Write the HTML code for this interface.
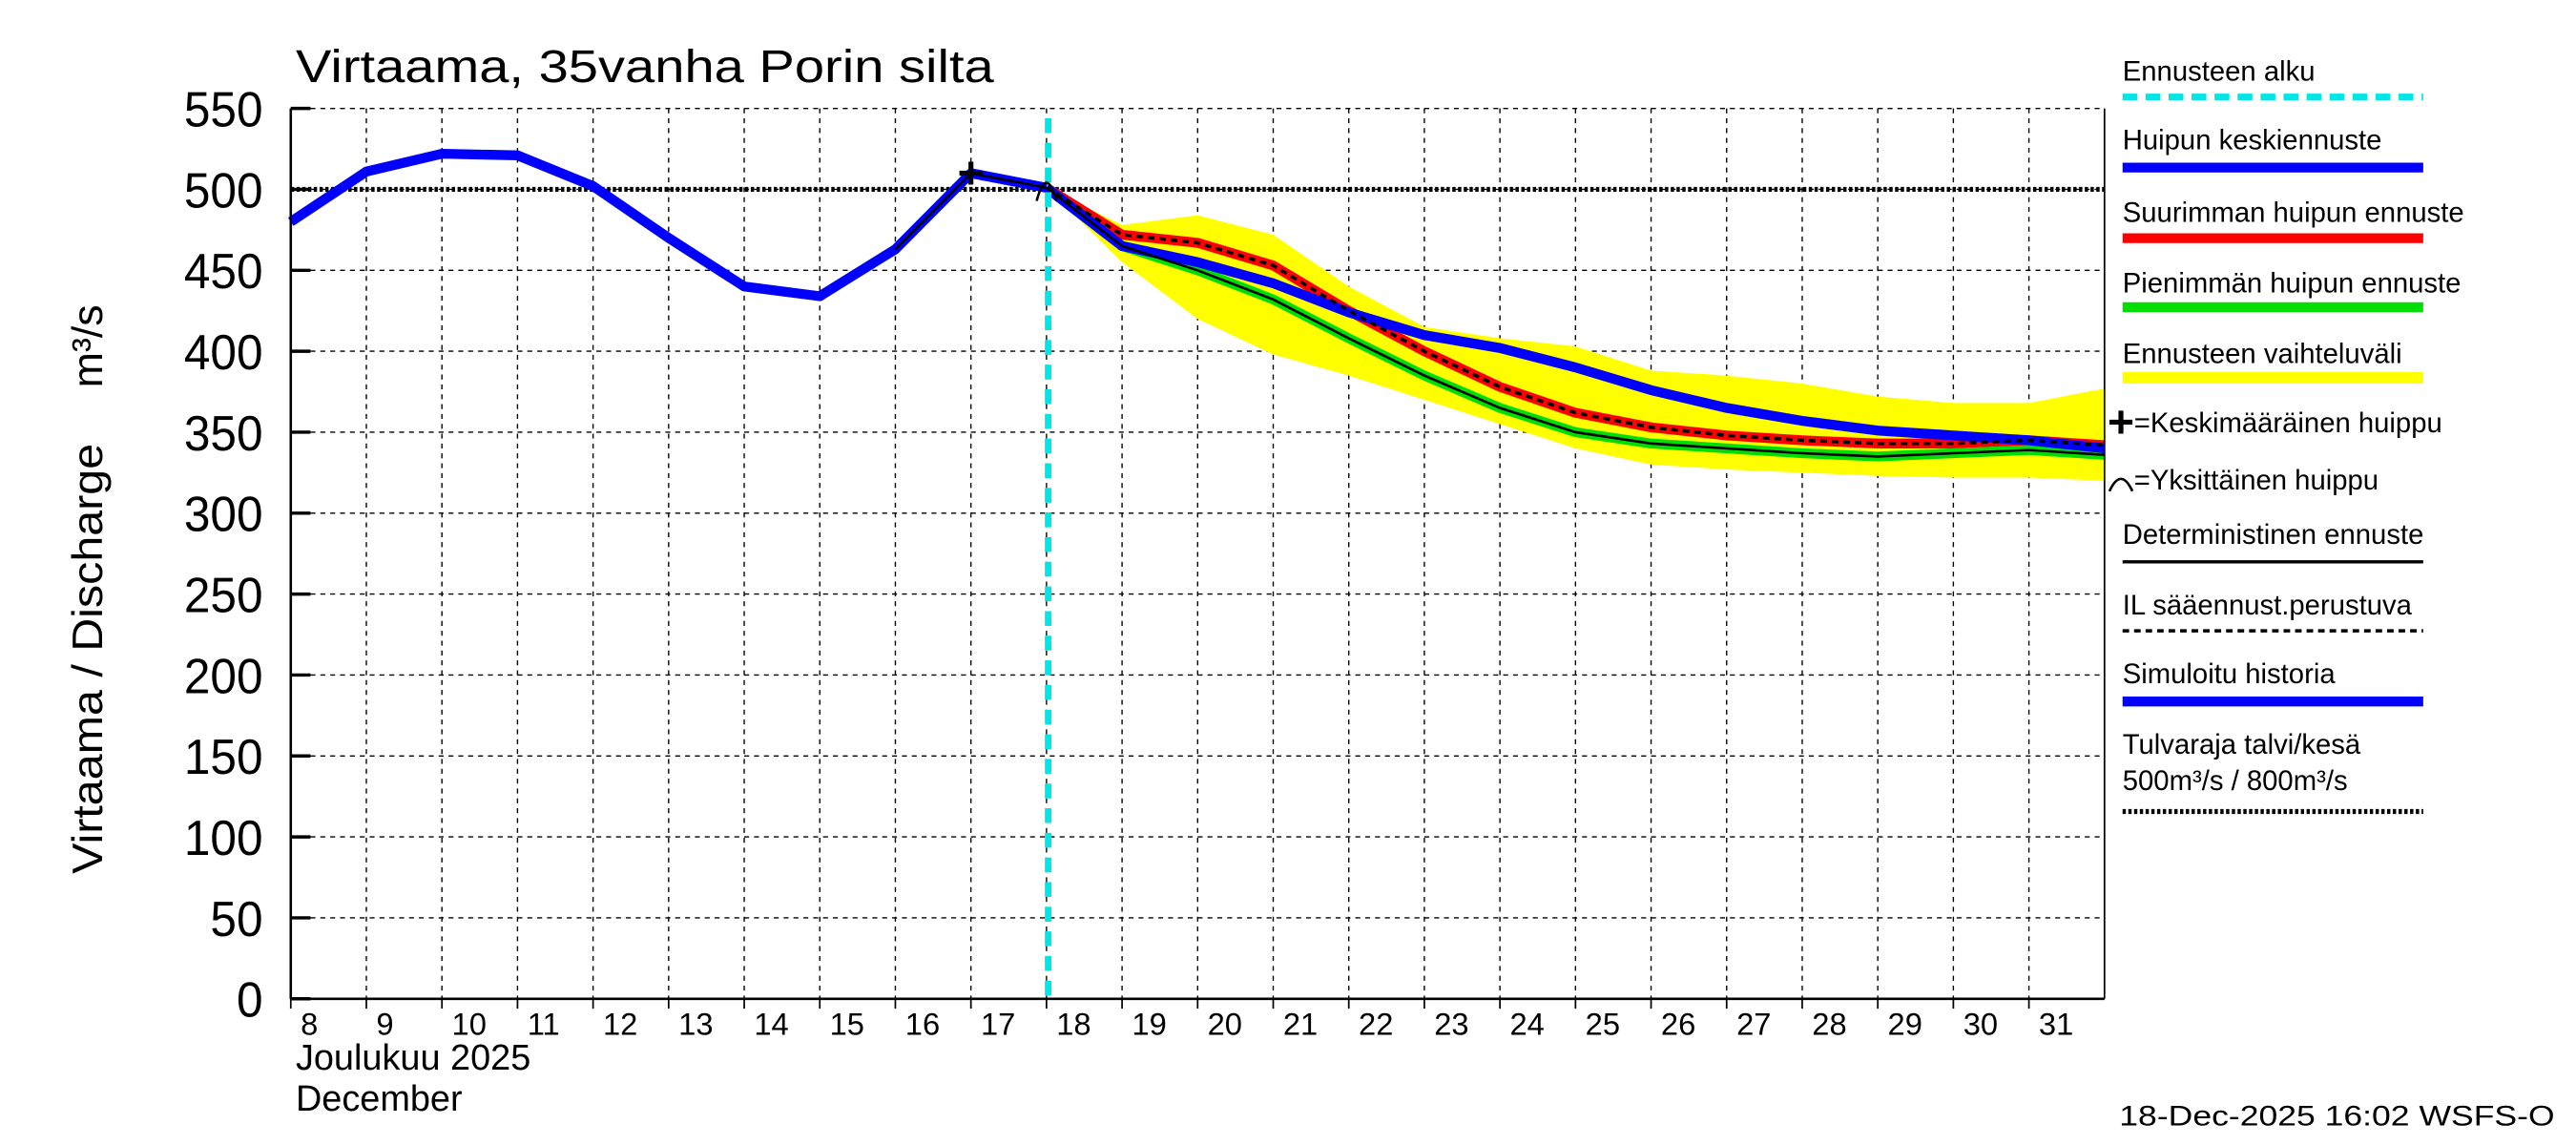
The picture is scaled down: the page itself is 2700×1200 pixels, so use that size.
<!DOCTYPE html>
<html><head><meta charset="utf-8"><style>
html,body{margin:0;padding:0;background:#fff}
svg{display:block}
text{font-family:"Liberation Sans",sans-serif;fill:#000}
</style></head><body>
<svg id="chart" width="2700" height="1200" viewBox="0 0 1568 697" preserveAspectRatio="none" xmlns="http://www.w3.org/2000/svg">
<rect x="0" y="0" width="1568" height="697" fill="#fff"/>
<text x="180" y="50" font-size="28" textLength="425" lengthAdjust="spacingAndGlyphs">Virtaama, 35vanha Porin silta</text>
<g id="plot"></g>
<g id="legend"></g>
<text transform="translate(62,532) rotate(-90)" font-size="26" textLength="262" lengthAdjust="spacingAndGlyphs">Virtaama / Discharge</text>
<text transform="translate(62,236) rotate(-90)" font-size="26">m³/s</text>
<text x="180" y="651" font-size="22">Joulukuu  2025</text>
<text x="180" y="676" font-size="22">December</text>
<text x="1290" y="685" font-size="17" textLength="265" lengthAdjust="spacingAndGlyphs">18-Dec-2025 16:02 WSFS-O</text>
</svg>
<script>
const historyDays=[8,9,10,11,12,13,14,15,16,17,18];
const historyVals=[480,511,522,521,502,470,440,434,463,510,501];
const fcDays=[18,19,20,21,22,23,24,25,26,27,28,29,30,31,32];
const meanVals=[501,465,455,442,424,410,402,390,376,365,357,351,348,345,340];
const maxVals=[501,472,467,453,425,400,378,362,353,348,345,343,343,345,342];
const minVals=[501,465,450,432,408,385,365,350,343,340,337,335,337,339,336];
const upperVals=[501,478,484,472,440,415,408,403,388,385,380,372,368,368,377];
const lowerVals=[501,455,420,398,385,370,355,340,330,327,325,323,322,322,320];
const yTicks=[0,50,100,150,200,250,300,350,400,450,500,550];
const dayTicks=[8,9,10,11,12,13,14,15,16,17,18,19,20,21,22,23,24,25,26,27,28,29,30,31];
const peakDay=17, peakVal=510, forecastStart=18, floodLimit=500;

const NS="http://www.w3.org/2000/svg";
const X0=177,X1=1281,Y0=608,Y1=66;
const x=d=>X0+(d-8)*(X1-X0)/24;
const y=v=>Y0-v*(Y0-Y1)/550;
const plot=document.getElementById('plot');
function mk(tag,attrs,parent){const e=document.createElementNS(NS,tag);for(const k in attrs)e.setAttribute(k,attrs[k]);(parent||plot).appendChild(e);return e;}
function pts(ds,vs){return ds.map((d,i)=>x(d)+','+y(vs[i])).join(' ');}

yTicks.forEach(v=>{
  const g=mk('line',{x1:X0,x2:X1,y1:y(v),y2:y(v),stroke:'#000','stroke-width':0.8,'stroke-dasharray':'3,3'});
  
  
  mk('line',{x1:X0,x2:X0+12,y1:y(v),y2:y(v),stroke:'#000','stroke-width':2});
  const t=mk('text',{x:X0-17,y:y(v)+11,'font-size':30,'text-anchor':'end',textLength:String(v).length*16,lengthAdjust:'spacingAndGlyphs'});
  t.textContent=v;
  
  
});
dayTicks.forEach(d=>{
  const g=mk('line',{x1:x(d),x2:x(d),y1:Y1,y2:Y0,stroke:'#000','stroke-width':0.8,'stroke-dasharray':'3,3'});
  
  
  mk('line',{x1:x(d),x2:x(d),y1:Y0,y2:Y0+6,stroke:'#000','stroke-width':1});
  const t=mk('text',{x:x(d)+6,y:Y0+22,'font-size':19});
  t.textContent=d;
  
  
});
const band=mk('polygon',{points:pts(fcDays,upperVals)+' '+pts(fcDays.slice().reverse(),lowerVals.slice().reverse()),fill:'#ffff00'});


const fl=mk('line',{x1:X0,x2:X1,y1:y(floodLimit),y2:y(floodLimit),stroke:'#000','stroke-width':3,'stroke-dasharray':'2,1.5'});


const maxL=mk('polyline',{points:pts(fcDays,maxVals),fill:'none',stroke:'#ff0000','stroke-width':6});


const minL=mk('polyline',{points:pts(fcDays,minVals),fill:'none',stroke:'#00dd00','stroke-width':6});


const hist=mk('polyline',{points:pts(historyDays,historyVals),fill:'none',stroke:'#0000ff','stroke-width':6,'stroke-linejoin':'round'});


const meanL=mk('polyline',{points:pts(fcDays,meanVals),fill:'none',stroke:'#0000ff','stroke-width':6});


const detL=mk('polyline',{points:pts(fcDays,minVals),fill:'none',stroke:'#000','stroke-width':1.5});


const ilL=mk('polyline',{points:pts(fcDays,maxVals),fill:'none',stroke:'#000','stroke-width':2,'stroke-dasharray':'4,3'});


const histBlk=mk('polyline',{points:pts(historyDays.slice(8),historyVals.slice(8)),fill:'none',stroke:'#000','stroke-width':1.5});


const fs=mk('line',{x1:x(forecastStart)+1,x2:x(forecastStart)+1,y1:Y1+6,y2:Y0,stroke:'#00e5e5','stroke-width':4,'stroke-dasharray':'9,6'});


const pm=mk('path',{d:`M${x(peakDay)-7},${y(peakVal)}h14M${x(peakDay)},${y(peakVal)-7}v14`,stroke:'#000','stroke-width':3});


const sp=mk('path',{d:`M${x(18)-6},${y(historyVals[10])+8} Q${x(18)},${y(historyVals[10])-14} ${x(18)+6},${y(historyVals[10])+8}`,fill:'none',stroke:'#000','stroke-width':1.5});


mk('line',{x1:X0,x2:X0,y1:Y1,y2:Y0,stroke:'#000','stroke-width':1.5});
mk('line',{x1:X0,x2:X1,y1:Y0,y2:Y0,stroke:'#000','stroke-width':1.5});
mk('line',{x1:X1,x2:X1,y1:Y1,y2:Y0,stroke:'#000','stroke-width':1});

const lg=document.getElementById('legend');
function lt(txt,yy,name){const t=mk('text',{x:1292,y:yy,'font-size':17},lg);t.textContent=txt;}
function ll(yy,color,w,dash,name){const l=mk('line',{x1:1292,x2:1475,y1:yy,y2:yy,stroke:color,'stroke-width':w},lg);if(dash)l.setAttribute('stroke-dasharray',dash);}
lt('Ennusteen alku',49,'legend-forecast-start-label');ll(59,'#00e5e5',4,'9,5','legend-forecast-start-swatch');
lt('Huipun keskiennuste',91,'legend-mean-label');ll(102,'#0000ff',6,null,'legend-mean-swatch');
lt('Suurimman huipun ennuste',135,'legend-max-label');ll(145,'#ff0000',6,null,'legend-max-swatch');
lt('Pienimmän huipun ennuste',178,'legend-min-label');ll(187,'#00dd00',6,null,'legend-min-swatch');
lt('Ennusteen vaihteluväli',221,'legend-range-label');ll(230,'#ffff00',7,null,'legend-range-swatch');
mk('path',{d:'M1284,257h14M1291,250v14',stroke:'#000','stroke-width':3},lg);
const k=mk('text',{x:1299,y:263,'font-size':17},lg);k.textContent='=Keskimääräinen huippu';
mk('path',{d:'M1284,299 Q1291,284 1298,299',fill:'none',stroke:'#000','stroke-width':1.5},lg);
const s=mk('text',{x:1299,y:298,'font-size':17},lg);s.textContent='=Yksittäinen huippu';
lt('Deterministinen ennuste',331,'legend-deterministic-label');ll(342,'#000',2,null,'legend-deterministic-swatch');
lt('IL sääennust.perustuva',374,'legend-il-label');ll(384,'#000',2,'4,3','legend-il-swatch');
lt('Simuloitu historia',416,'legend-history-label');ll(427,'#0000ff',6,null,'legend-history-swatch');
lt('Tulvaraja talvi/kesä',459,'legend-flood-label');
lt('500m³/s / 800m³/s',481,'legend-flood-values');ll(494,'#000',3,'2,1.5','legend-flood-swatch');
</script>
</body></html>
